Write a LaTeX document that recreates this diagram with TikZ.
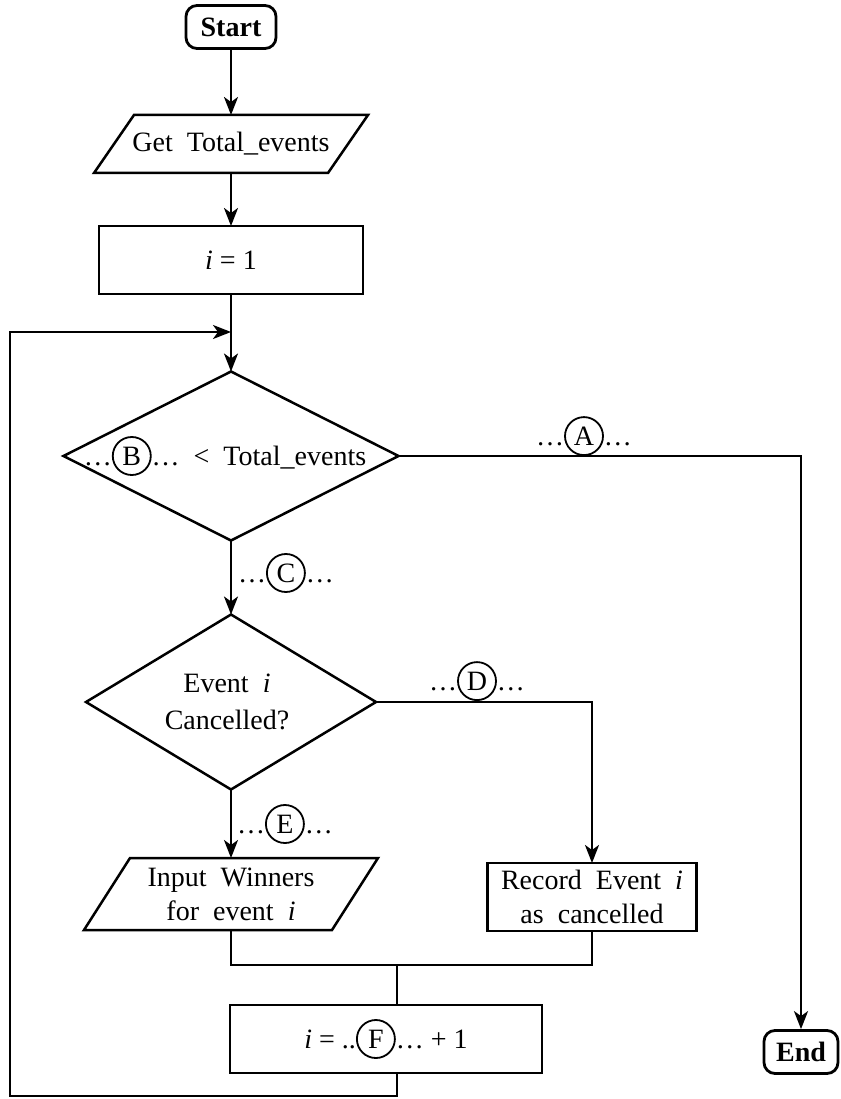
\documentclass[tikz,border=0pt]{standalone}
\usepackage{fontspec}
\setmainfont{Liberation Serif}
\usetikzlibrary{arrows.meta,calc}
\newcommand{\circlbl}[1]{\tikz[baseline=(cl.base)]\node[draw,circle,line width=1.8pt,inner sep=0pt,minimum size=38pt](cl){#1};}
\begin{document}
\begin{tikzpicture}[x=1pt,y=-1pt,
  font=\fontsize{28}{34}\selectfont,
  line width=2.5pt,
  arr/.style={-{Stealth[length=18pt,width=14pt,inset=5pt]}},
  ghost/.style={inner sep=0pt,outer sep=0pt},
  terminal/.style={draw,rounded corners=11pt,line width=2.8pt,inner sep=0pt,
    font=\fontsize{28}{34}\selectfont\bfseries},
  proc/.style={draw,inner sep=0pt,outer sep=0pt,minimum height=68pt},
  lbl/.style={inner sep=0pt,outer sep=0pt}]
\useasboundingbox (0,0) rectangle (840,1099);

% nodes
\node[terminal,minimum width=90pt,minimum height=43pt] (start) at (231,27) {Start};

\node[ghost,minimum width=234pt,minimum height=58pt] (get) at (231,144) {Get\ \ Total\_events};
\draw ($(get.south west)+(-20,0)$) -- ($(get.south east)+(-20,0)$) --
      ($(get.north east)+(20,0)$) -- ($(get.north west)+(20,0)$) -- cycle;

\node[proc,minimum width=264pt] (init) at (231,260) {\textit{i} = 1};

\coordinate (join) at (231,332);

\node[ghost,minimum width=335pt,minimum height=169pt] (d1) at (231,456) {};
\draw (d1.north) -- (d1.east) -- (d1.south) -- (d1.west) -- cycle;
\node[lbl] (d1t) at (225,456) {\ldots\circlbl{B}\ldots\ \ <\ \ Total\_events};

\node[ghost,minimum width=290pt,minimum height=175pt] (d2) at (231,702) {};
\draw (d2.north) -- (d2.east) -- (d2.south) -- (d2.west) -- cycle;
\node[lbl,align=center,font=\fontsize{28}{37}\selectfont] (d2t) at (227,702) {Event\ \ \textit{i}\\Cancelled?};

\node[ghost,minimum width=248pt,minimum height=72pt,align=center] (input) at (231,894) {Input\ \ Winners\\for\ \ event\ \ \textit{i}};
\draw ($(input.south west)+(-23,0)$) -- ($(input.south east)+(-23,0)$) --
      ($(input.north east)+(23,0)$) -- ($(input.north west)+(23,0)$) -- cycle;

\node[proc,minimum width=209pt,align=center] (record) at (592,897) {Record\ \ Event\ \ \textit{i}\\as\ \ cancelled};

\node[proc,minimum width=312pt] (fbox) at (386,1039) {\textit{i} = ..\circlbl{F}\ldots\ + 1};

\node[terminal,minimum width=74pt,minimum height=43pt] (end) at (801,1052) {End};

% labels
\node[lbl,anchor=south] (lblA) at (584,456) {\ldots\circlbl{A}\ldots};
\node[lbl,anchor=west] (lblC) at (238,573) {\ldots\circlbl{C}\ldots};
\node[lbl,anchor=south] (lblD) at (477,701) {\ldots\circlbl{D}\ldots};
\node[lbl,anchor=west] (lblE) at (237,824) {\ldots\circlbl{E}\ldots};

% connectors
\coordinate (aC) at (801,456);
\coordinate (dC) at (592,702);
\coordinate (mL) at (231,965);
\coordinate (mR) at (592,965);
\coordinate (mM) at (397,965);
\coordinate (lB) at (397,1096);
\coordinate (lBL) at (10,1096);
\coordinate (lTL) at (10,332);

\draw[arr] (start) -- (get);
\draw[arr] (get) -- (init);
\draw[arr] (init) -- (d1.north);
\draw[arr] (d1.east) -- (aC) -- (end);
\draw[arr] (d1.south) -- (d2.north);
\draw[arr] (d2.east) -- (dC) -- (record);
\draw[arr] (d2.south) -- (input.north);
\draw (input.south) -- (mL) -- (mR) -- (record.south);
\draw (mM) -- (mM |- fbox.north);
\draw[arr] (mM |- fbox.south) -- (lB) -- (lBL) -- (lTL) -- (join);
\end{tikzpicture}
\end{document}
